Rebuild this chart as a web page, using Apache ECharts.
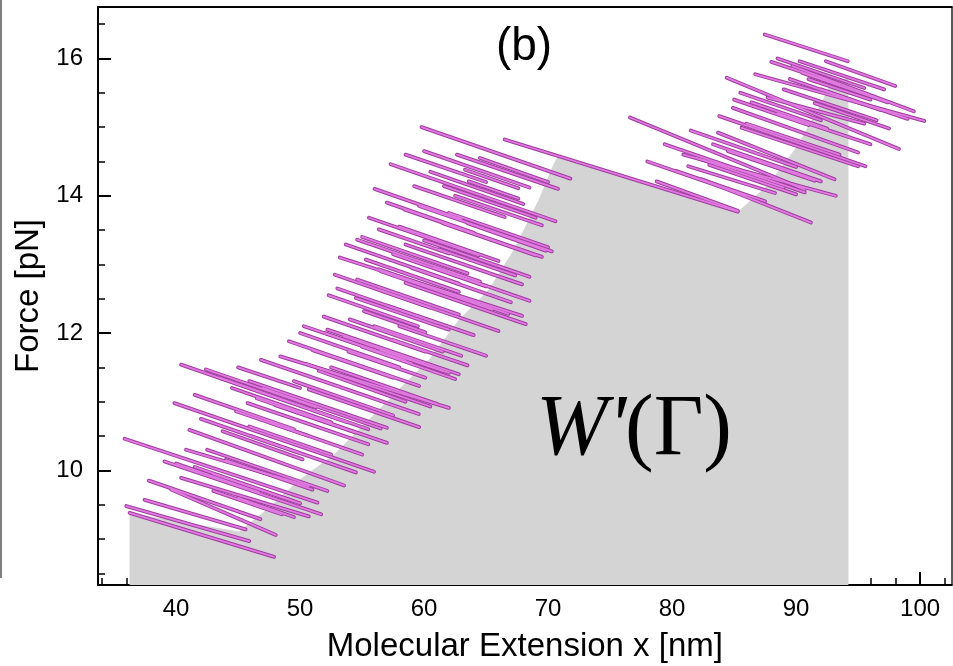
<!DOCTYPE html>
<html><head><meta charset="utf-8">
<script src="https://cdn.jsdelivr.net/npm/echarts@6/dist/echarts.min.js"></script>
<style>html,body{margin:0;padding:0;background:#fff}#c{width:953px;height:666px}</style>
</head><body><div id="c"></div>
<script>
// ---- axis ticks ----
const xMajorTicks = [40, 50, 60, 70, 80, 90, 100];
const xMinorTicks = [34, 36, 38, 42, 44, 46, 48, 52, 54, 56, 58, 62, 64, 66, 68, 72, 74, 76, 78, 82, 84, 86, 88, 92, 94, 96, 98, 102];
const yMajorTicks = [10, 12, 14, 16];
const yMinorTicks = [8.5, 9, 9.5, 10.5, 11, 11.5, 12.5, 13, 13.5, 14.5, 15, 15.5, 16.5];

// ---- gray work area W'(Γ) boundary (nm, pN) ----
const areaX = [36.25, 36.25, 45.09, 47.11, 49.92, 52.74, 55.55, 57.97, 60.38, 62.79, 65.2, 67.22, 69.23, 70.43, 70.84, 85.33, 87.74, 90.15, 92.16, 92.97, 94.22, 94.22];
const areaY = [8.33, 9.38, 9.11, 9.40, 9.86, 10.23, 10.74, 11.18, 11.61, 12.19, 12.63, 13.21, 13.94, 14.46, 14.59, 13.77, 14.16, 14.74, 15.40, 15.70, 15.70, 8.33];

// ---- trajectory strokes (start x, start F, end x, end F) ----
const segX0 = [36.25,35.98,37.45,39.6,37.8,43.0,45.0,40.4,40.0,41.5,43.0,39.06,35.84,40.8,42.5,44.0,41.07,42.0,43.75,46.0,39.86,44.83,47.5,45.76,48.0,40.4,42.4,44.5,45.9,
 43.5,46.5,41.5,45.0,
 45.9,47.0,46.84,49.5,50.7,48.4,50.5,52.5,49.1,51.0,50.0,53.9,52.2,55.0,51.9,52.3,55.15,56.0,57.5,54.5,53.0,57.0,58.0,54.6,52.8,56.35,55.3,56.5,53.68,54.6,53.2,
 52.0,54.0,53.5,56.5,51.5,50.3,
 56.35,58.5,59.0,57.5,58.5,55.55,61.2,58.0,60.0,58.4,61.5,59.6,56.35,59.2,62.5,61.6,57.3,60.5,63.6,63.3,62.65,64.5,59.8,
 55.0,57.0,56.0,60.0,58.5,62.0,63.5,60.8,
 66.5,
 78.75,80.35,82.4,81.3,83.0,82.0,80.9,79.4,84.5,76.6,83.7,85.6,86.0,83.8,84.9,86.4,88.5,87.7,85.5,84.4,89.0,91.5,86.7,90.5,89.7,91.0,90.28,88.0,92.4,87.47,
 78.0,81.5,85.0,88.5,89.5,92.0,83.3];
const segY0 = [9.38,9.48,9.57,9.72,9.85,9.70,9.60,9.89,10.10,10.05,9.95,10.13,10.46,10.30,10.30,10.15,10.59,10.75,10.57,10.50,10.98,10.86,10.70,10.98,10.95,11.54,11.47,11.20,10.64,
 11.35,11.05,11.10,11.50,
 11.30,11.20,11.61,11.30,11.18,11.66,11.55,11.50,11.88,11.75,12.00,11.73,12.05,11.80,12.24,12.55,12.32,12.10,11.90,12.51,12.65,12.40,12.10,12.78,12.85,12.63,13.07,12.90,13.29,13.36,13.10,
 12.00,12.20,11.95,11.75,11.45,12.10,
 12.93,12.73,12.95,13.15,13.29,13.68,13.22,13.55,13.35,13.80,13.60,13.85,13.51,14.14,14.00,14.14,14.46,14.35,14.21,14.38,14.60,14.55,15.00,
 13.40,13.90,14.10,14.65,14.60,13.75,13.60,12.95,
 14.82,
 14.21,14.36,14.24,14.43,14.45,14.55,14.60,14.75,14.65,15.14,14.92,14.99,15.05,15.16,15.28,15.36,15.20,15.43,15.50,15.72,15.55,15.35,15.77,15.79,15.89,15.70,15.96,15.95,15.96,16.35,
 14.50,14.95,15.40,16.00,15.70,15.55,14.75];
const segX1 = [47.9,45.9,45.6,48.04,46.8,48.5,49.5,50.7,46.7,49.5,50.0,51.7,51.4,50.7,52.2,51.0,53.55,50.0,50.2,54.5,55.97,50.7,55.0,55.5,54.5,53.8,51.26,52.5,52.5,
 55.5,57.0,49.5,50.0,
 57.0,56.5,59.57,57.5,59.6,62.0,60.5,61.0,59.6,57.5,58.0,60.1,62.8,62.5,60.1,59.5,60.1,63.0,63.5,62.0,61.0,64.0,65.0,62.8,60.5,66.0,62.8,65.5,62.8,64.5,67.9,
 59.0,61.5,62.0,61.5,58.5,58.5,
 66.8,68.2,67.0,65.0,67.9,64.4,67.35,66.0,68.5,69.5,69.0,70.3,62.0,66.5,69.5,69.0,70.6,68.0,67.6,67.6,70.8,70.0,71.8,
 63.5,64.0,63.0,68.5,65.0,70.0,69.8,68.5,
 85.3,
 85.3,87.5,91.2,88.3,90.0,89.0,93.2,90.7,91.5,90.7,93.1,95.0,93.5,95.6,95.0,92.5,96.0,95.5,92.0,98.3,96.5,97.5,100.34,97.4,99.5,96.0,97.1,93.5,98.0,94.17,
 86.0,90.0,91.0,95.5,96.8,99.0,92.0];
const segY1 = [8.74,8.97,9.14,9.06,9.29,9.36,9.32,9.33,9.68,9.55,9.52,9.36,9.53,9.77,9.70,9.72,9.78,10.25,10.16,9.97,9.98,10.50,10.23,10.38,10.55,10.70,10.92,10.70,10.23,
 10.60,10.40,10.60,11.20,
 10.62,10.61,10.82,10.80,10.63,10.91,10.93,10.97,11.23,11.35,11.50,11.35,11.40,11.33,11.73,12.10,12.01,11.67,11.53,12.05,12.15,11.97,11.67,12.27,12.37,12.03,12.60,12.34,12.72,12.75,12.25,
 11.56,11.73,11.42,11.45,11.00,11.60,
 12.28,12.13,12.45,12.68,12.71,13.13,12.84,13.05,12.82,13.11,13.13,13.19,13.16,13.69,13.57,13.68,13.63,13.88,13.96,14.11,14.10,14.20,14.25,
 12.87,13.46,13.66,14.12,14.20,13.25,13.20,12.47,
 13.77,
 13.78,13.92,13.61,14.04,14.02,14.12,14.00,14.05,14.22,14.09,14.24,14.43,14.60,14.43,14.63,14.98,14.75,15.05,15.10,14.68,15.10,14.98,15.09,15.36,15.23,15.40,15.55,15.62,15.60,15.96,
 14.00,14.42,15.03,15.57,15.25,15.12,14.21];

const SANS = "'Liberation Sans', Arial, Helvetica, sans-serif";
const SERIF = "'Liberation Serif', 'Times New Roman', serif";
const X_MIN = 33.7, X_MAX = 102.55, Y_MIN = 8.33, Y_MAX = 16.75;

const chart = echarts.init(document.getElementById('c'), null, {renderer: 'canvas'});

const segs = segX0.map((x, i) => ({coords: [[x, segY0[i]], [segX1[i], segY1[i]]]}));
const area = areaX.map((x, i) => [x, areaY[i]]);

const hidden = {axisLabel: {show: false}, splitLine: {show: false}};
chart.setOption({
  animation: false,
  backgroundColor: '#fff',
  grid: {left: 98, right: 1.3, top: 7, bottom: 81, containLabel: false, outerBoundsMode: 'none'},
  xAxis: [
    {type: 'value', min: X_MIN, max: X_MAX, position: 'bottom',
     axisLine: {show: true, onZero: false, lineStyle: {color: '#000', width: 2}},
     axisTick: {show: true, inside: true, length: 13, customValues: xMajorTicks, lineStyle: {color: '#000', width: 2}},
     axisLabel: {show: true, customValues: xMajorTicks, margin: 12, fontSize: 24, color: '#000', fontFamily: SANS},
     splitLine: {show: false},
     name: 'Molecular Extension x [nm]', nameLocation: 'middle', nameGap: 45,
     nameTextStyle: {fontSize: 33, color: '#000', fontFamily: SANS}},
    Object.assign({type: 'value', min: X_MIN, max: X_MAX, position: 'bottom',
     axisLine: {show: false, onZero: false},
     axisTick: {show: true, inside: true, length: 7, customValues: xMinorTicks, lineStyle: {color: '#000', width: 1.5}}}, hidden),
    Object.assign({type: 'value', min: X_MIN, max: X_MAX, position: 'top',
     axisLine: {show: true, onZero: false, lineStyle: {color: '#000', width: 2}},
     axisTick: {show: false}}, hidden)
  ],
  yAxis: [
    {type: 'value', min: Y_MIN, max: Y_MAX, position: 'left',
     axisLine: {show: true, onZero: false, lineStyle: {color: '#000', width: 2}},
     axisTick: {show: true, inside: true, length: 13, customValues: yMajorTicks, lineStyle: {color: '#000', width: 2}},
     axisLabel: {show: true, customValues: yMajorTicks, margin: 15, fontSize: 24, color: '#000', fontFamily: SANS},
     splitLine: {show: false},
     name: 'Force [pN]', nameLocation: 'middle', nameGap: 45, nameRotate: 90,
     nameTextStyle: {fontSize: 33, color: '#000', fontFamily: SANS}},
    Object.assign({type: 'value', min: Y_MIN, max: Y_MAX, position: 'left',
     axisLine: {show: false, onZero: false},
     axisTick: {show: true, inside: true, length: 7, customValues: yMinorTicks, lineStyle: {color: '#000', width: 1.5}}}, hidden),
    Object.assign({type: 'value', min: Y_MIN, max: Y_MAX, position: 'right',
     axisLine: {show: true, onZero: false, lineStyle: {color: '#222', width: 1.5}},
     axisTick: {show: false}}, hidden)
  ],
  series: [
    {type: 'line', name: 'work', xAxisIndex: 0, yAxisIndex: 0, data: area, symbol: 'none',
     lineStyle: {width: 0, opacity: 0}, areaStyle: {color: '#d4d4d4', opacity: 1, origin: 'start'},
     silent: true, z: 1},
    {type: 'lines', coordinateSystem: 'cartesian2d', xAxisIndex: 0, yAxisIndex: 0, data: segs,
     lineStyle: {color: '#9f3c9f', width: 3.8, opacity: 1, curveness: 0, cap: 'round'}, silent: true, z: 3},
    {type: 'lines', coordinateSystem: 'cartesian2d', xAxisIndex: 0, yAxisIndex: 0, data: segs,
     lineStyle: {color: '#e07ae0', width: 1.8, opacity: 1, curveness: 0, cap: 'round'}, silent: true, z: 4}
  ],
  graphic: [
    {type: 'line', shape: {x1: 1, y1: 0, x2: 1, y2: 578}, style: {stroke: '#555', lineWidth: 1.5}, z: 10},
    {type: 'text', z: 10, style: {x: 524, y: 47, text: '(b)', font: '46px ' + SANS, fill: '#000', align: 'center', verticalAlign: 'middle'}},
    {type: 'text', z: 10, style: {x: 536, y: 431, text: "W'", font: 'italic 86px ' + SERIF, fill: '#000', align: 'left', verticalAlign: 'middle'}},
    {type: 'text', z: 10, style: {x: 625, y: 431, text: '(Γ)', font: '86px ' + SERIF, fill: '#000', align: 'left', verticalAlign: 'middle'}}
  ]
});
</script>
</body></html>
